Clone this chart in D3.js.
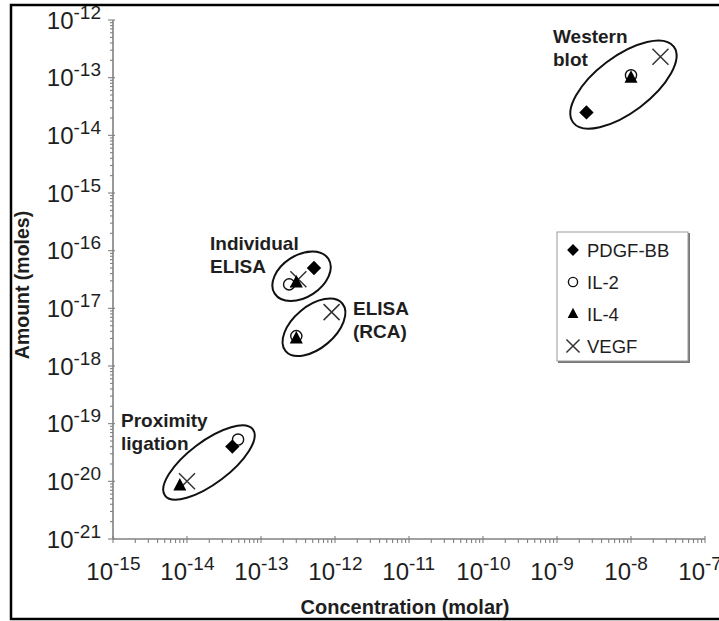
<!DOCTYPE html>
<html>
<head>
<meta charset="utf-8">
<script src="https://cdn.jsdelivr.net/npm/d3@7"></script>
<style>
  html, body { margin: 0; padding: 0; background: #fff; }
  svg { display: block; font-family: "Liberation Sans", Arial, sans-serif; }
</style>
</head>
<body>
<svg id="chart" width="719" height="621"></svg>
<script>
// Assay methods (one cluster each)
const methods = ["Western blot", "Individual ELISA", "ELISA (RCA)", "Proximity ligation"];

// Proteins (legend order)
const proteins = ["PDGF-BB", "IL-2", "IL-4", "VEGF"];

// Concentration (molar), indexed by method; null = not shown
const concPDGF = [2.5e-9, 5.2e-13, null, 4.1e-14];
const concIL2  = [1.0e-8, 2.4e-13, 3.0e-13, 4.9e-14];
const concIL4  = [1.0e-8, 3.0e-13, 3.0e-13, 8.0e-15];
const concVEGF = [2.5e-8, 3.2e-13, 9.0e-13, 1.0e-14];

// Amount (moles), indexed by method
const amtPDGF = [2.5e-14, 5.0e-17, null, 4.0e-20];
const amtIL2  = [1.1e-13, 2.6e-17, 3.3e-18, 5.3e-20];
const amtIL4  = [1.0e-13, 2.8e-17, 3.0e-18, 8.5e-21];
const amtVEGF = [2.3e-13, 3.2e-17, 8.6e-18, 1.0e-20];

// Axis decades (exponents)
const xExponents = [-15, -14, -13, -12, -11, -10, -9, -8, -7];
const yExponents = [-21, -20, -19, -18, -17, -16, -15, -14, -13, -12];

const svg = d3.select("#chart");

// outer frame
svg.append("rect")
  .attr("x", 11).attr("y", 5).attr("width", 720).attr("height", 614)
  .attr("fill", "none").attr("stroke", "#000").attr("stroke-width", 2.5);

const x = d3.scaleLog().domain([1e-15, 1e-7]).range([113, 705]);
const y = d3.scaleLog().domain([1e-21, 1e-12]).range([539, 20]);

const axisColor = "#808080";
const textColor = "#1e1e1e";
const baseSize = 24, supSize = 19;

// minor/major ticks for a log scale
function logTicks(lo, hi) {
  const t = [];
  for (let e = lo; e < hi; e++) {
    for (let m = 1; m <= 9; m++) t.push({ v: m * Math.pow(10, e), major: m === 1 });
  }
  t.push({ v: Math.pow(10, hi), major: true });
  return t;
}

// x axis
const gx = svg.append("g");
gx.append("line").attr("x1", x(1e-15)).attr("x2", x(1e-7))
  .attr("y1", y(1e-21)).attr("y2", y(1e-21))
  .attr("stroke", axisColor).attr("stroke-width", 1.6);
gx.selectAll("line.tick").data(logTicks(-15, -7)).join("line")
  .attr("class", "tick")
  .attr("x1", d => x(d.v)).attr("x2", d => x(d.v))
  .attr("y1", d => y(1e-21) - (d.major ? 3 : 0)).attr("y2", y(1e-21) + 4)
  .attr("stroke", axisColor).attr("stroke-width", 1.1);

// "10" ends at the tick, exponent starts there
const xl = gx.selectAll("g.xl").data(xExponents).join("g").attr("class", "xl")
  .attr("fill", textColor);
xl.append("text")
  .attr("x", d => x(Math.pow(10, d))).attr("y", 580)
  .attr("text-anchor", "end").attr("font-size", baseSize).text("10");
xl.append("text")
  .attr("x", d => x(Math.pow(10, d))).attr("y", 570)
  .attr("text-anchor", "start").attr("font-size", supSize).text(d => String(d));

// y axis
const gy = svg.append("g");
gy.append("line").attr("x1", x(1e-15)).attr("x2", x(1e-15))
  .attr("y1", y(1e-21)).attr("y2", y(1e-12))
  .attr("stroke", axisColor).attr("stroke-width", 1.6);
gy.selectAll("line.tick").data(logTicks(-21, -12)).join("line")
  .attr("class", "tick")
  .attr("x1", d => x(1e-15) - (d.major ? 5 : 3)).attr("x2", d => x(1e-15) + (d.major ? 2 : 0))
  .attr("y1", d => y(d.v)).attr("y2", d => y(d.v))
  .attr("stroke", axisColor).attr("stroke-width", 1.1);

const yl = gy.selectAll("text.yl").data(yExponents).join("text")
  .attr("class", "yl")
  .attr("x", 101)
  .attr("y", d => y(Math.pow(10, d)) + 8.5)
  .attr("text-anchor", "end")
  .attr("fill", textColor);
yl.append("tspan").attr("font-size", baseSize).text("10");
yl.append("tspan").attr("font-size", supSize).attr("dy", -10).text(d => String(d));

// axis titles
svg.append("text")
  .attr("x", 405).attr("y", 614)
  .attr("text-anchor", "middle")
  .attr("font-size", 20).attr("font-weight", "bold").attr("fill", textColor)
  .text("Concentration (molar)");
svg.append("text")
  .attr("transform", "translate(29,285) rotate(-90)")
  .attr("text-anchor", "middle")
  .attr("font-size", 19.5).attr("font-weight", "bold").attr("fill", textColor)
  .text("Amount (moles)");

// assemble points per protein/method
const concs = [concPDGF, concIL2, concIL4, concVEGF];
const amts = [amtPDGF, amtIL2, amtIL4, amtVEGF];
const points = [];
proteins.forEach((p, i) => {
  methods.forEach((m, j) => {
    if (concs[i][j] != null && amts[i][j] != null) {
      points.push({ protein: p, method: m, c: concs[i][j], a: amts[i][j] });
    }
  });
});

// cluster ellipses, centred on the extent of each method's markers
const ellipseShape = {
  "Western blot":       { rx: 63, ry: 28, angle: -37, dy: 0 },
  "Individual ELISA":   { rx: 32, ry: 21, angle: -33, dy: 0 },
  "ELISA (RCA)":        { rx: 37, ry: 21, angle: -40, dy: 2 },
  "Proximity ligation": { rx: 55, ry: 21, angle: -37, dy: 0 }
};
const ge = svg.append("g");
methods.forEach(m => {
  const pts = points.filter(p => p.method === m);
  const xs = pts.map(p => x(p.c)), ys = pts.map(p => y(p.a));
  const s = ellipseShape[m];
  const cx = (d3.min(xs) + d3.max(xs)) / 2;
  const cy = (d3.min(ys) + d3.max(ys)) / 2 + s.dy;
  ge.append("ellipse")
    .attr("transform", `translate(${cx},${cy}) rotate(${s.angle})`)
    .attr("rx", s.rx).attr("ry", s.ry)
    .attr("fill", "none").attr("stroke", "#111").attr("stroke-width", 2);
});

// method labels
const methodLabels = [
  { lines: ["Western", "blot"], x: 553, y: 43 },
  { lines: ["Individual", "ELISA"], x: 210, y: 250 },
  { lines: ["ELISA", "(RCA)"], x: 353, y: 315 },
  { lines: ["Proximity", "ligation"], x: 121, y: 427 }
];
methodLabels.forEach(l => {
  const t = svg.append("text")
    .attr("font-size", 19).attr("font-weight", "bold").attr("fill", textColor);
  l.lines.forEach((s, i) => {
    t.append("tspan").attr("x", l.x).attr("y", l.y + i * 22.5).text(s);
  });
});

// marker drawing
function drawMarker(g, protein, cx, cy, k) {
  if (protein === "PDGF-BB") {
    const r = 7.2 * k;
    g.append("path")
      .attr("d", `M${cx},${cy - r}L${cx + r},${cy}L${cx},${cy + r}L${cx - r},${cy}Z`)
      .attr("fill", "#000");
  } else if (protein === "IL-2") {
    g.append("circle").attr("cx", cx).attr("cy", cy).attr("r", 5.6 * k)
      .attr("fill", "#fff").attr("stroke", "#111").attr("stroke-width", 1.4);
  } else if (protein === "IL-4") {
    const h = 12.5 * k, w = 13 * k;
    g.append("path")
      .attr("d", `M${cx},${cy - h * 0.6}L${cx + w / 2},${cy + h * 0.4}L${cx - w / 2},${cy + h * 0.4}Z`)
      .attr("fill", "#000");
  } else {
    const r = 8 * k;
    g.append("path")
      .attr("d", `M${cx - r},${cy - r}L${cx + r},${cy + r}M${cx - r},${cy + r}L${cx + r},${cy - r}`)
      .attr("stroke", "#333").attr("stroke-width", 1.5).attr("fill", "none");
  }
}

// draw order: circles, crosses, triangles, diamonds
const gm = svg.append("g");
["IL-2", "VEGF", "IL-4", "PDGF-BB"].forEach(p => {
  points.filter(d => d.protein === p).forEach(d => drawMarker(gm, p, x(d.c), y(d.a), 1));
});

// legend
const lg = svg.append("g");
lg.append("rect").attr("x", 558).attr("y", 233).attr("width", 132).attr("height", 130)
  .attr("fill", "#777");
lg.append("rect").attr("x", 557).attr("y", 232).attr("width", 131).attr("height", 129)
  .attr("fill", "#fff").attr("stroke", "#999").attr("stroke-width", 1);
proteins.forEach((p, i) => {
  const ly = 250 + i * 32;
  drawMarker(lg, p, 573, ly, 0.82);
  lg.append("text").attr("x", 587).attr("y", ly + 6.5)
    .attr("font-size", 18.5).attr("fill", textColor).text(p);
});
</script>
</body>
</html>
